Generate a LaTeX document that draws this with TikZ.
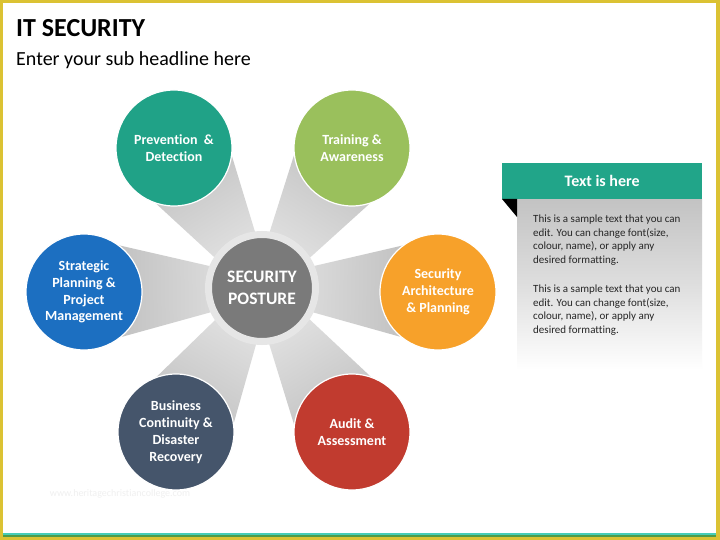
\documentclass[tikz,border=0pt]{standalone}
\usepackage{fontspec}
\setmainfont{Carlito}[Ligatures=NoCommon]
\usetikzlibrary{calc,backgrounds}
\definecolor{frameyellow}{HTML}{DBC233}
\definecolor{lineteal}{HTML}{45CDB8}
\definecolor{linegreen}{HTML}{4F9B4A}
\definecolor{cteal}{HTML}{20A287}
\definecolor{cgreen}{HTML}{9AC05C}
\definecolor{cblue}{HTML}{1C6FC1}
\definecolor{corange}{HTML}{F7A12A}
\definecolor{cslate}{HTML}{45556B}
\definecolor{cred}{HTML}{C13B2F}
\definecolor{cgray}{HTML}{7A7A7A}
\definecolor{ringgray}{HTML}{E6E6E6}
\definecolor{spokeout}{HTML}{B9B9B9}
\definecolor{spokein}{HTML}{E6E6E6}
\definecolor{headteal}{HTML}{21A589}
\definecolor{boxtop}{HTML}{C3C3C3}
\definecolor{bodytext}{HTML}{262626}
\tikzset{
  bubble/.style={circle, minimum size=116pt, inner sep=0pt, draw=white, line width=1.2pt,
    text=white, align=center, font=\bfseries\fontsize{14}{16.8}\selectfont},
  hub/.style={circle, minimum size=107pt, inner sep=0pt, fill=cgray, draw=ringgray, line width=7pt,
    text=white, align=center, font=\bfseries\fontsize{17.5}{22}\selectfont},
  spokeshade/.style={top color=spokeout, bottom color=spokein},
  bodytxt/.style={anchor=north west, align=left, inner sep=0pt, text=bodytext,
    font=\fontsize{11}{13.5}\selectfont}
}
\begin{document}
\begin{tikzpicture}[x=1pt,y=-1pt]
\useasboundingbox (0,0) rectangle (720,540);
% hub and bubbles
\node[hub] (c) at (262,288) {SECURITY\\POSTURE};
\node[bubble, fill=cteal]   (pd) at (174,148) {Prevention \ \&\\Detection};
\node[bubble, fill=cgreen]  (ta) at (352,148) {Training \&\\Awareness};
\node[bubble, fill=cblue]   (sp) at (84,292)  {Strategic\\Planning \&\\Project\\Management};
\node[bubble, fill=corange] (sa) at (438,292) {Security\\Architecture\\\& Planning};
\node[bubble, fill=cslate]  (bc) at (176,432) {Business\\Continuity \&\\Disaster\\Recovery};
\node[bubble, fill=cred]    (aa) at (352,432) {Audit \&\\Assessment};
% background: frame and spokes
\begin{scope}[on background layer]
  \fill[frameyellow] (0,0) rectangle (720,540);
  \fill[white] (3,3) rectangle (716,537);
  \fill[lineteal] (3,533.4) rectangle (716,535.2);
  \fill[linegreen] (3,535.2) rectangle (716,537);
  \foreach \o/\a in {pd/32.1, ta/-32.7, sp/91.3, sa/-91.3, bc/149.2, aa/-148} {
    \shade[spokeshade, shading angle=\a]
      ($(\o.center)!55pt!90:(c.center)$) -- ($(\o.center)!55pt!-90:(c.center)$) --
      ($(c.center)!10pt!90:(\o.center)$) -- ($(c.center)!10pt!-90:(\o.center)$) -- cycle;
  }
\end{scope}
% titles
\node[anchor=base west, inner sep=0pt, font=\bfseries\fontsize{26}{30}\selectfont] (title) at (16,37) {IT SECURITY};
\node[anchor=base west, inner sep=0pt, font=\fontsize{20}{24}\selectfont] (sub) at (16,66) {Enter your sub headline here};
\node[text=black!6, inner sep=0pt, font=\fontsize{10}{12}\selectfont] (wm) at (120,494) {www.heritagechristiancollege.com};
% text box
\node[anchor=north west, minimum width=185pt, minimum height=171pt, inner sep=0pt,
  top color=boxtop, bottom color=white, middle color=boxtop!55!white] (body) at (517,199) {};
\node[anchor=south west, minimum width=200pt, minimum height=36pt, inner sep=0pt, fill=headteal,
  text=white, font=\bfseries\fontsize{16}{19}\selectfont] (hdr) at (502,199) {\raisebox{-2pt}{Text is here}};
\fill[black] (hdr.south west) -- (body.north west) -- ($(body.north west)+(0,18)$) -- cycle;
\node[bodytxt] (p1) at (533,215) {This is a sample text that you can\\edit. You can change font(size,\\colour, name), or apply any\\desired formatting.};
\node[bodytxt] (p2) at (533,285) {This is a sample text that you can\\edit. You can change font(size,\\colour, name), or apply any\\desired formatting.};
\end{tikzpicture}
\end{document}
